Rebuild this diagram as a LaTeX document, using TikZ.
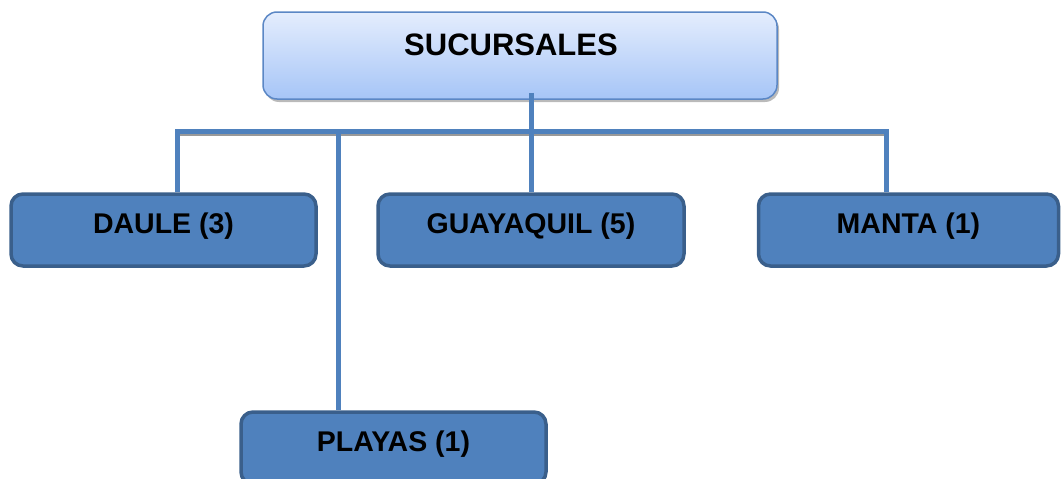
\documentclass[tikz,border=0pt]{standalone}
\usepackage{fontspec}
\setmainfont{Liberation Sans}
\usetikzlibrary{shadows}
\definecolor{boxblue}{HTML}{4F81BD}
\definecolor{boxedge}{HTML}{3A5F8B}
\definecolor{headtop}{HTML}{E4EDFD}
\definecolor{headbot}{HTML}{A6C5F7}
\definecolor{headedge}{HTML}{5B87C5}
\definecolor{linkblue}{HTML}{4F81BD}
\tikzset{
  headbox/.style={draw=headedge, line width=1.5pt, rounded corners=14pt,
    top color=headtop, bottom color=headbot,
    drop shadow={shadow xshift=2pt, shadow yshift=-3pt, opacity=0.45, fill=black!60},
    minimum width=514pt, minimum height=87pt, inner sep=0pt,
    font=\bfseries\fontsize{31}{36}\selectfont, text height=22pt, text depth=23pt},
  branch/.style={draw=boxedge, fill=boxblue, line width=3.5pt, rounded corners=12pt,
    minimum height=72pt, inner sep=0pt,
    font=\bfseries\fontsize{28.5}{34}\selectfont, text height=20pt, text depth=14pt},
  link/.style={draw=linkblue, line width=5pt},
  linkshade/.style={draw=black!40, line width=3pt}
}
\begin{document}
\begin{tikzpicture}[x=1pt,y=-1pt]
\useasboundingbox (0,0) rectangle (1061,479);
% head of the chart
\node[headbox] (head) at (520,55.5) {\hspace*{-18pt}SUCURSALES};
% branch offices
\node[branch, minimum width=305pt] (daule) at (163.5,230) {DAULE (3)};
\node[branch, minimum width=306pt] (guayaquil) at (531,230) {GUAYAQUIL (5)};
\node[branch, minimum width=300pt] (manta) at (908.5,230) {MANTA (1)};
\coordinate (bar) at (0,131);
\coordinate (dauletop) at ([xshift=14pt]daule.north);
\coordinate (mantatop) at ([xshift=-22pt]manta.north);
% shading under the distribution bar
\draw[linkshade] ([yshift=-3pt]dauletop |- bar) -- ([yshift=-3pt]mantatop |- bar);
% connectors
\draw[link] (dauletop) -- (dauletop |- bar) -- (mantatop |- bar) -- (mantatop);
\draw[link] ([yshift=7pt]head.south -| guayaquil.north) -- (guayaquil.north);
\node[branch, minimum width=305pt] (playas) at (393.5,448) {PLAYAS (1)};
\coordinate (playastop) at ([xshift=-55.5pt]playas.north);
\draw[link] (playastop |- bar) -- (playastop);
\end{tikzpicture}
\end{document}
